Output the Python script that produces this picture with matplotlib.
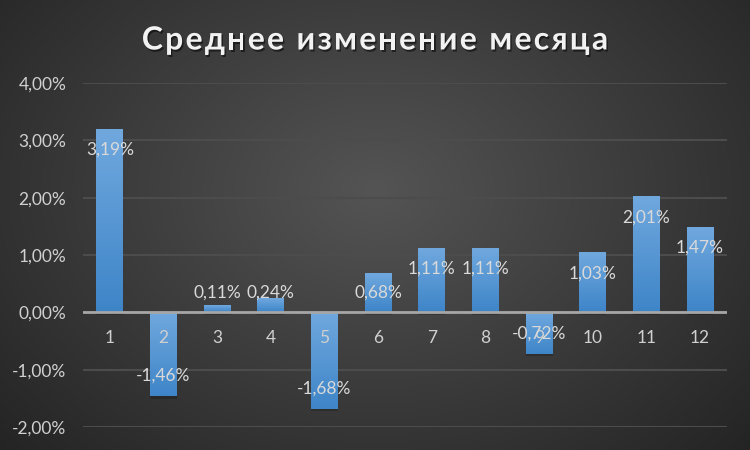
import numpy as np
import matplotlib
matplotlib.use("Agg")
from matplotlib import pyplot as plt
from matplotlib import patheffects as pe

# данные
months = [1, 2, 3, 4, 5, 6, 7, 8, 9, 10, 11, 12]
values = [3.19, -1.46, 0.11, 0.24, -1.68, 0.68, 1.11, 1.11, -0.72, 1.03, 2.01, 1.47]
title = "Среднее изменение месяца"

plt.rcParams['font.family'] = ['Lato', 'DejaVu Sans']

fig = plt.figure(figsize=(7.5, 4.5), dpi=100)

# радиальный фон
bg = fig.add_axes([0, 0, 1, 1], zorder=-10)
yy, xx = np.mgrid[0:450, 0:750]
r = np.sqrt(((xx - 375) / 520.0) ** 2 + ((yy - 190) / 380.0) ** 2)
r = np.clip(r, 0, 1)
shade = 0.33 - 0.19 * r
bg.imshow(np.dstack([shade, shade, shade]), aspect='auto', extent=[0, 1, 0, 1])
bg.axis('off')

ax = fig.add_axes([0.1107, 0.0511, 0.8585, 0.7645])
ax.set_facecolor('none')
ax.set_xlim(0.5, 12.5)
ax.set_ylim(-2, 4)
ax.set_yticks([-2, -1, 0, 1, 2, 3, 4])
ax.set_yticklabels([f"{v:.2f}%".replace('.', ',') for v in [-2, -1, 0, 1, 2, 3, 4]])
ax.tick_params(axis='y', length=0, pad=12, labelsize=12.5, labelcolor='#d0d0d0')
ax.set_xticks([])
for s in ax.spines.values():
    s.set_visible(False)
ax.grid(axis='y', color='#4c4c4c', lw=1.5, zorder=0)
ax.set_axisbelow(True)

# градиент столбиков
grad = np.linspace(0, 1, 100).reshape(-1, 1)
top_c = np.array([112, 168, 222]) / 255
bot_c = np.array([62, 133, 200]) / 255
grad_img = top_c * (1 - grad[..., None]) + bot_c * grad[..., None]

width = 0.5
bars = ax.bar(months, values, width=width, color='#5b9bd5', zorder=2,
              path_effects=[pe.SimplePatchShadow(offset=(0, -2), shadow_rgbFace='black', alpha=0.18), pe.Normal()])
for b, v in zip(bars, values):
    x0 = b.get_x()
    y_top = max(v, 0)
    y_bot = min(v, 0)
    ax.imshow(grad_img, extent=[x0, x0 + width, y_bot, y_top], aspect='auto', zorder=3,
              interpolation='bilinear')

ax.axhline(0, color='#a6a6a6', lw=2, zorder=4)

# подписи месяцев
for m in months:
    ax.text(m, -0.44, str(m), ha='center', va='center', fontsize=12.5, color='#d0d0d0', zorder=5)

# подписи значений
for m, v in zip(months, values):
    off = max(abs(v) - 0.35, 0.35)
    ax.text(m, np.sign(v) * off, f"{v:.2f}%".replace('.', ','), ha='center', va='center',
            fontsize=12.5, color='#d9d9d9', zorder=6)

# заголовок с разреженными буквами
fig.canvas.draw()
renderer = fig.canvas.get_renderer()
tsize = 23
spacing = 2.2
widths = []
for ch in title:
    t = fig.text(0, 0, ch if ch != ' ' else 'n', fontsize=tsize, fontweight='bold')
    w = t.get_window_extent(renderer).width
    if ch == ' ':
        w *= 0.45
    widths.append(w)
    t.remove()
total = sum(widths) + spacing * (len(title) - 1)
x = 375 - total / 2
for ch, w in zip(title, widths):
    if ch != ' ':
        fig.text(x / 750, 1 - 40 / 450, ch, fontsize=tsize, fontweight='bold', color='#f2f2f2',
                 va='center', ha='left',
                 path_effects=[pe.withSimplePatchShadow(offset=(1, -1.5), shadow_rgbFace='black', alpha=0.5)])
    x += w + spacing

fig.savefig('out.png', dpi=100)
